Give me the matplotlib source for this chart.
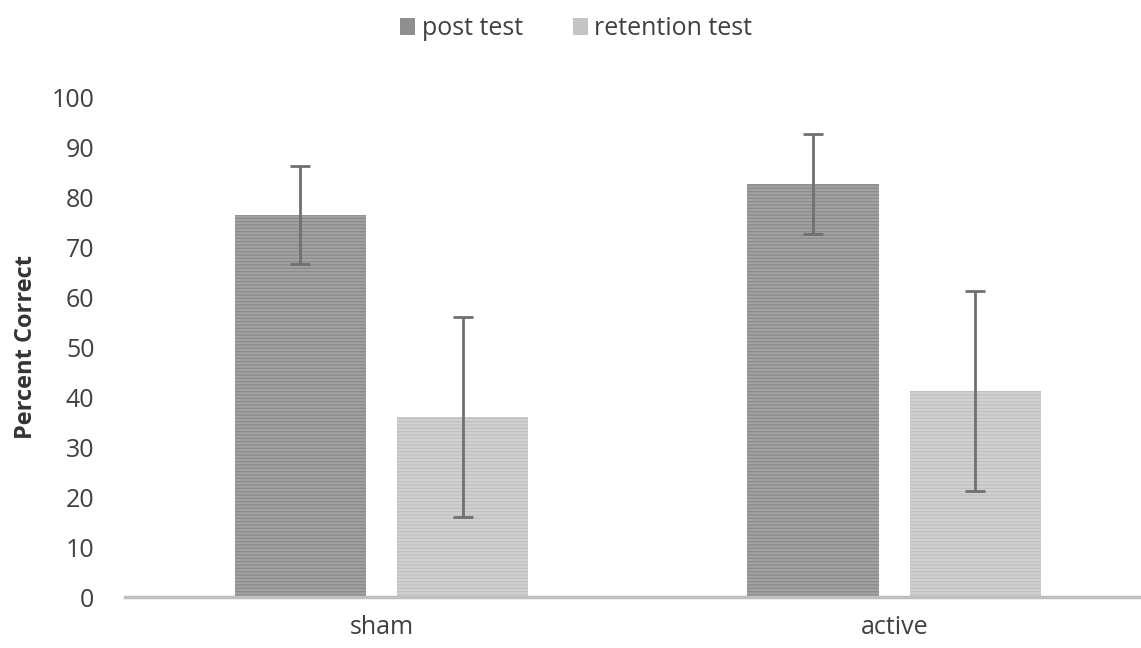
import matplotlib
matplotlib.use("Agg")
import matplotlib.pyplot as plt
import numpy as np
from matplotlib.patches import Patch

categories = ["sham", "active"]
series_names = ["post test", "retention test"]
post_test = [76.5, 82.6]
post_err = [9.8, 10.0]
retention_test = [36.1, 41.3]
retention_err = [20.0, 20.0]
yticks = [0, 10, 20, 30, 40, 50, 60, 70, 80, 90, 100]

plt.rcParams['font.family'] = ['Open Sans', 'DejaVu Sans']
plt.rcParams['hatch.linewidth'] = 1.0

fig = plt.figure(figsize=(11.41, 6.48), dpi=100)
ax = fig.add_axes([0.1096, 0.0787, 0.899, 0.7716])

x = np.arange(len(categories))
w = 0.257
off = 0.158
face = ["#a3a3a3", "#d2d2d2"]
hatchc = ["#8c8c8c", "#c0c0c0"]
vals = [post_test, retention_test]
errs = [post_err, retention_err]
for i, (v, e) in enumerate(zip(vals, errs)):
    pos = x + (-off if i == 0 else off)
    ax.bar(pos, v, width=w, color=face[i], edgecolor=hatchc[i], linewidth=0,
           hatch='-----', label=series_names[i], zorder=2)
    ax.errorbar(pos, v, yerr=e, fmt='none', ecolor='#707070', elinewidth=2,
                capsize=7, capthick=2, zorder=3)

ax.set_xlim(-0.5, 1.5)
ax.set_ylim(0, 100)
ax.set_yticks(yticks)
ax.set_xticks(x)
ax.set_xticklabels(categories)
ax.tick_params(axis='both', length=0, labelsize=18, colors='#404040')
ax.tick_params(axis='y', pad=22)
ax.tick_params(axis='x', pad=13)
for s in ['top', 'right', 'left']:
    ax.spines[s].set_visible(False)
ax.spines['bottom'].set_color('#bfbfbf')
ax.spines['bottom'].set_linewidth(2.5)
ax.set_ylabel("Percent Correct", fontsize=17, fontweight='bold', color='#333333', labelpad=10)

handles = [Patch(facecolor="#8f8f8f", edgecolor='none'), Patch(facecolor="#c4c4c4", edgecolor='none')]
fig.legend(handles, series_names, loc='upper center', bbox_to_anchor=(0.505, 1.01), ncol=2,
           frameon=False, fontsize=18, handlelength=0.6, handleheight=0.65,
           handletextpad=0.25, columnspacing=2.0, labelcolor='#404040')

fig.savefig("out.png", dpi=100)
